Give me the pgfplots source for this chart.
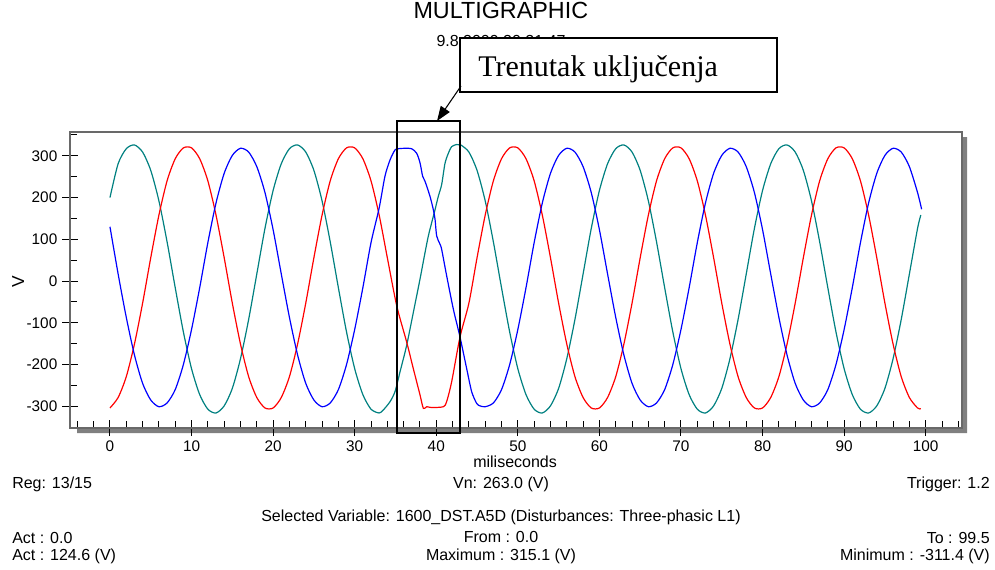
\documentclass[border=0pt]{standalone}
\usepackage{pgfplots}
\pgfplotsset{compat=1.18}
\usetikzlibrary{arrows.meta}
\usepackage{fontspec}
\setmainfont{Liberation Sans}
\newfontfamily\serif{Liberation Serif}

\definecolor{phaseA}{RGB}{255,0,0}
\definecolor{phaseB}{RGB}{0,0,255}
\definecolor{phaseC}{RGB}{0,128,128}
\definecolor{framegray}{RGB}{105,105,105}
\definecolor{shadowgray}{RGB}{128,128,128}

% pixel coordinates of the 995x569 screenshot, y downwards
\tikzset{px/.style={x=0.75pt,y=-0.75pt,yshift=426.75pt}}

\begin{document}
\begin{tikzpicture}
\useasboundingbox (0,0) rectangle (746.25pt,426.75pt);

% frame shadow
\begin{scope}[px]
\fill[shadowgray] (77,429) -- (963,429) -- (963,137) -- (967,137) -- (967,433) -- (77,433) -- cycle;
\end{scope}

\begin{axis}[
  name=ax, at={(52.5pt,105.75pt)}, anchor=south west,
  scale only axis, width=669pt, height=222pt,
  xmin=-4.9, xmax=104.45, ymin=-352, ymax=357,
  axis line style={draw=framegray, line width=1.1pt},
  xtick={0,10,...,100}, ytick={-300,-200,...,300},
  minor xtick={-4,-2,...,104}, minor ytick={-250,-150,...,350},
  xtick pos=left, ytick pos=left,
  tick align=center,
  major tick length=12pt, minor tick length=5.25pt,
  minor x tick style={yshift=2.625pt},
  minor y tick style={xshift=2.625pt},
  tick style={black, line width=0.75pt},
  /pgf/number format/assume math mode=true,
  ticklabel style={font=\fontsize{11.5}{13}\selectfont},
  title={MULTIGRAPHIC},
  title style={at={(axis description cs:0.483,1.355)}, anchor=base, inner sep=0pt, font=\fontsize{17.5}{20}\selectfont},
  xlabel={miliseconds},
  xlabel style={at={(axis description cs:0.499,-0.135)}, anchor=base, inner sep=0pt, font=\fontsize{12}{14}\selectfont},
  ylabel={V},
  ylabel style={at={(axis description cs:-0.058,0.493)}, anchor=center, inner sep=0pt, font=\fontsize{13}{15}\selectfont},
  every axis plot/.append style={line width=0.9pt, smooth, tension=0.45},
]
% L2 (teal)
\addplot[phaseC] coordinates {
(0,200) (1,281) (2,317) (3,326) (4,309) (5,265) (6,192) (7,94) (8,-16) (9,-122) (10,-210) (11,-272) (12,-307) (13,-316) (14,-299) (15,-257) (16,-186) (17,-92) (18,17) (19,126)
(20,217) (21,281) (22,317) (23,326) (24,309) (25,265) (26,192) (27,94) (28,-16) (29,-122) (30,-210) (31,-272) (32,-307) (33,-316)
(33.5,-309) (34.33,-289) (34.94,-265) (35.55,-218) (36.37,-154) (37.19,-75) (38.01,5) (38.62,68) (39.03,108) (39.44,140) (39.85,171) (40.25,203) (40.66,231) (41.07,282) (41.48,306) (41.89,322) (42.5,327)
(43,326) (44,309) (45,265) (46,192) (47,94) (48,-16) (49,-122) (50,-210) (51,-272) (52,-307) (53,-316) (54,-299) (55,-257) (56,-186) (57,-92) (58,17) (59,126)
(60,217) (61,281) (62,317) (63,326) (64,309) (65,265) (66,192) (67,94) (68,-16) (69,-122) (70,-210) (71,-272) (72,-307) (73,-316) (74,-299) (75,-257) (76,-186) (77,-92) (78,17) (79,126)
(80,217) (81,281) (82,317) (83,326) (84,309) (85,265) (86,192) (87,94) (88,-16) (89,-122) (90,-210) (91,-272) (92,-307) (93,-316) (94,-299) (95,-257) (96,-186) (97,-92) (98,17) (99,126) (99.4,158)
};
% L1 (red)
\addplot[phaseA] coordinates {
(0,-304) (1,-279) (2,-229) (3,-151) (4,-53) (5,56) (6,158) (7,240) (8,293) (9,319) (10,319) (11,293) (12,240) (13,158) (14,56) (15,-53) (16,-151) (17,-229) (18,-279) (19,-304)
(20,-304) (21,-279) (22,-229) (23,-151) (24,-53) (25,56) (26,158) (27,240) (28,293) (29,319) (30,319) (31,293) (32,240) (33,158) (34,56)
(35.15,-59) (36.37,-146) (37.19,-210) (38.01,-273) (38.42,-305) (38.83,-301) (39.44,-303) (40.87,-301) (41.27,-289) (41.89,-241) (42.91,-134)
(44,-53) (45,56) (46,158) (47,240) (48,293) (49,319) (50,319) (51,293) (52,240) (53,158) (54,56) (55,-53) (56,-151) (57,-229) (58,-279) (59,-304)
(60,-304) (61,-279) (62,-229) (63,-151) (64,-53) (65,56) (66,158) (67,240) (68,293) (69,319) (70,319) (71,293) (72,240) (73,158) (74,56) (75,-53) (76,-151) (77,-229) (78,-279) (79,-304)
(80,-304) (81,-279) (82,-229) (83,-151) (84,-53) (85,56) (86,158) (87,240) (88,293) (89,319) (90,319) (91,293) (92,240) (93,158) (94,56) (95,-53) (96,-151) (97,-229) (98,-279) (99,-304) (99.4,-306)
};
% L3 (blue)
\addplot[phaseB] coordinates {
(0,130) (1,17) (2,-87) (3,-177) (4,-245) (5,-285) (6,-301) (7,-292) (8,-260) (9,-200) (10,-116) (11,-16) (12,92) (13,187) (14,258) (15,301) (16,318) (17,309) (18,274) (19,212)
(20,123) (21,17) (22,-87) (23,-177) (24,-245) (25,-285) (26,-301) (27,-292) (28,-260) (29,-200) (30,-116) (31,-16) (32,92) (33,175)
(33.71,251) (34.33,290) (34.94,314) (35.35,317) (36.17,318) (36.98,317) (37.6,306) (38.01,283) (38.33,251) (38.62,239) (39.23,203) (39.64,171) (39.85,148) (40.05,108) (40.46,88) (40.66,76) (41.27,13) (42.09,-67) (42.91,-134) (43.73,-210) (44.34,-265) (44.95,-293) (45.36,-299)
(46,-301) (47,-292) (48,-260) (49,-200) (50,-116) (51,-16) (52,92) (53,187) (54,258) (55,301) (56,318) (57,309) (58,274) (59,212)
(60,123) (61,17) (62,-87) (63,-177) (64,-245) (65,-285) (66,-301) (67,-292) (68,-260) (69,-200) (70,-116) (71,-16) (72,92) (73,187) (74,258) (75,301) (76,318) (77,309) (78,274) (79,212)
(80,123) (81,17) (82,-87) (83,-177) (84,-245) (85,-285) (86,-301) (87,-292) (88,-260) (89,-200) (90,-116) (91,-16) (92,92) (93,187) (94,258) (95,301) (96,318) (97,309) (98,274) (99,212) (99.5,172)
};
\end{axis}

\begin{scope}[px]
% date line, partly hidden behind the callout
\node[anchor=base, inner sep=0pt, font=\fontsize{12}{14}\selectfont] at (501,47) {9.8.2009 20:21:47};
\draw[line width=1.1pt, fill=white] (460,38) rectangle (777,92);
\node[anchor=base west, inner sep=0pt, font=\serif\fontsize{22.5}{26}\selectfont] at (478,76) {Trenutak uključenja};
\draw[line width=0.8pt, -{Triangle[length=11pt,width=8pt]}] (461,86) -- (437,121);
\draw[line width=1.5pt] (397,121) rectangle (460,433);

\begin{scope}[every node/.style={inner sep=0pt, font=\fontsize{12}{14}\selectfont}]
\node[anchor=base west] at (12,488) {Reg: 13/15};
\node[anchor=base] at (501,488) {Vn: 263.0 (V)};
\node[anchor=base east] at (990,488) {Trigger: 1.2};
\node[anchor=base] at (501,521) {Selected Variable: 1600\_DST.A5D (Disturbances: Three-phasic L1)};
\node[anchor=base west] at (12,543) {Act : 0.0};
\node[anchor=base] at (501,542) {From : 0.0};
\node[anchor=base east] at (990,543) {To : 99.5};
\node[anchor=base west] at (12,560) {Act : 124.6 (V)};
\node[anchor=base] at (501,560) {Maximum : 315.1 (V)};
\node[anchor=base east] at (990,560) {Minimum : -311.4 (V)};
\end{scope}
\end{scope}
\end{tikzpicture}
\end{document}
